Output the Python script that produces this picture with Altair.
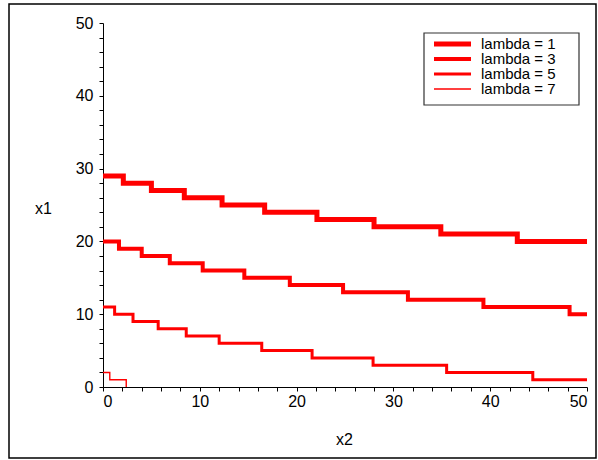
import altair as alt
import pandas as pd

labels = ["lambda = 1", "lambda = 3", "lambda = 5", "lambda = 7"]
widths = [5, 4, 3, 1.4]

lam1_x = [0, 2.1, 5.0, 8.4, 12.3, 16.7, 22.1, 28.0, 34.9, 42.8, 50]
lam1_y = [29, 28, 27, 26, 25, 24, 23, 22, 21, 20, 20]

lam3_x = [0, 1.65, 4.0, 6.9, 10.3, 14.6, 19.3, 24.8, 31.5, 39.3, 48.2, 50]
lam3_y = [20, 19, 18, 17, 16, 15, 14, 13, 12, 11, 10, 10]

lam5_x = [0, 1.2, 3.1, 5.7, 8.6, 12.0, 16.4, 21.6, 27.9, 35.5, 44.4, 50]
lam5_y = [11, 10, 9, 8, 7, 6, 5, 4, 3, 2, 1, 1]

lam7_x = [0, 0.7, 2.4]
lam7_y = [2, 1, 0]

tick_values = list(range(0, 51, 2))

rows = []
for lab, xs, ys in zip(labels, [lam1_x, lam3_x, lam5_x, lam7_x], [lam1_y, lam3_y, lam5_y, lam7_y]):
    for i, (a, b) in enumerate(zip(xs, ys)):
        rows.append({"series": lab, "xv": a, "yv": b, "order": i})
df = pd.DataFrame(rows)
legend_df = pd.DataFrame({"series": labels})

FONT = "Liberation Sans"
RED = "#ff0000"
width_scale = alt.Scale(type="ordinal", domain=labels, range=widths)

lines = alt.Chart(df).mark_line(
    interpolate="step-after", color=RED, strokeJoin="miter", strokeCap="butt"
).encode(
    x=alt.X("xv:Q", scale=alt.Scale(domain=[0, 50], nice=False),
            axis=alt.Axis(values=tick_values,
                          labelExpr="datum.value % 10 == 0 ? datum.label : ''",
                          title="x2", titleX=241, titleY=52, titleAlign="center",
                          titleBaseline="middle", labelPadding=2)),
    y=alt.Y("yv:Q", scale=alt.Scale(domain=[0, 50], nice=False),
            axis=alt.Axis(values=tick_values,
                          labelExpr="datum.value % 10 == 0 ? datum.label : ''",
                          title="x1", titleAngle=0, titleX=-60, titleY=185,
                          titleAlign="center", titleBaseline="middle", labelPadding=6)),
    strokeWidth=alt.StrokeWidth("series:N", scale=width_scale, legend=None),
    detail="series:N",
    order="order:Q",
)

# legend (manual, Maple style)
leg_y = alt.Y("series:N", scale=alt.Scale(type="point", domain=labels, range=[21, 66], padding=0), axis=None)
legend_box = alt.Chart(pd.DataFrame({"a": [0]})).mark_rect(
    fill="white", stroke="#333333", strokeWidth=1.2
).encode(x=alt.value(321), x2=alt.value(476), y=alt.value(10), y2=alt.value(82))
legend_lines = alt.Chart(legend_df).mark_rule(color=RED, strokeCap="butt").encode(
    x=alt.value(331), x2=alt.value(368), y=leg_y,
    strokeWidth=alt.StrokeWidth("series:N", scale=width_scale, legend=None),
)
legend_text = alt.Chart(legend_df).mark_text(
    align="left", baseline="middle", font=FONT, fontSize=15, color="black"
).encode(x=alt.value(378), y=leg_y, text="series:N")

border = alt.Chart(pd.DataFrame({"a": [0]})).mark_rect(
    filled=False, stroke="black", strokeWidth=1.5
).encode(x=alt.value(-94), x2=alt.value(493), y=alt.value(-19), y2=alt.value(435))

chart = alt.layer(border, lines, legend_box, legend_lines, legend_text).resolve_scale(
    y="independent"
).properties(
    width=484, height=364,
    padding={"left": 103, "top": 23, "right": 11, "bottom": 73},
    autosize="none",
).configure_view(strokeWidth=0).configure_axis(
    grid=False, domainColor="black", tickColor="black", tickSize=4,
    labelColor="black", labelFont=FONT, labelFontSize=16,
    titleColor="black", titleFont=FONT, titleFontSize=16, titleFontWeight="normal",
)

chart.save("out.html", embed_options={"renderer": "svg", "actions": False})
